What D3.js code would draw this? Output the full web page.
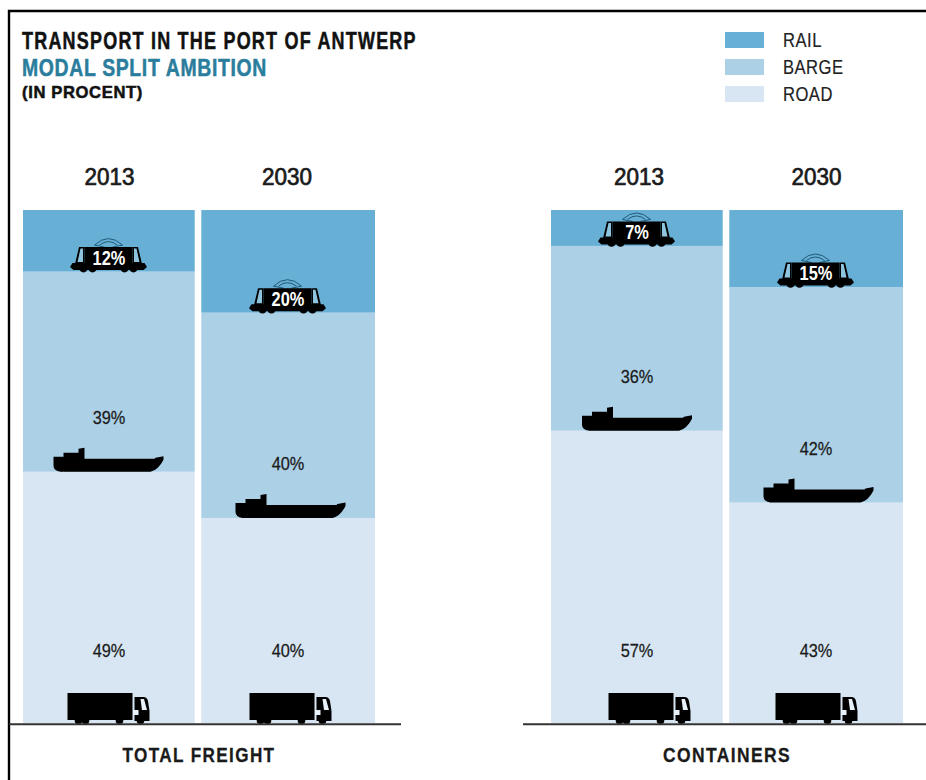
<!DOCTYPE html>
<html>
<head>
<meta charset="utf-8">
<style>
  html, body { margin: 0; padding: 0; background: #fff; }
  svg { display: block; }
  text { font-family: "Liberation Sans", sans-serif; }
</style>
<script src="https://cdn.jsdelivr.net/npm/d3@7"></script>
</head>
<body>
<script>
// Modal split of the Port of Antwerp, percent per transport mode
const groups = ["TOTAL FREIGHT", "CONTAINERS"];
const years = ["2013", "2030"];
const modes = ["RAIL", "BARGE", "ROAD"];
const railValues = [12, 20, 7, 15];
const bargeValues = [39, 40, 36, 42];
const roadValues = [49, 40, 57, 43];
const titleLines = ["TRANSPORT IN THE PORT OF ANTWERP", "MODAL SPLIT AMBITION", "(IN PROCENT)"];

const width = 926, height = 780;
const colour = d3.scaleOrdinal().domain(modes).range(["#67afd5", "#acd0e6", "#d8e6f3"]);

const svg = d3.select("body").append("svg").attr("width", width).attr("height", height);

const y = d3.scaleLinear().domain([0, 100]).range([723.3, 210]);
const xGroup = d3.scaleBand().domain(groups).range([23, 903]).paddingInner(1 / 3);
const xYear = d3.scaleBand().domain(years).range([0, xGroup.bandwidth()]).paddingInner(0.0335);

// Stack the three modes from the ground up: road, barge, rail
const columns = groups.flatMap((group, g) => years.map((year, t) => {
  const i = g * years.length + t;
  return { group, year, RAIL: railValues[i], BARGE: bargeValues[i], ROAD: roadValues[i] };
}));
const layers = d3.stack().keys(["ROAD", "BARGE", "RAIL"])(columns);

// The gutter between a pair of columns sits slightly left of the panel centre
const columnLeft = d => xGroup(d.group) + xYear(d.year) - (d.year === years[1] ? 0.7 : 0);
const columnRight = d => xGroup(d.group) + xYear(d.year) + xYear.bandwidth() - (d.year === years[0] ? 1.3 : 0);
const columnMid = d => xGroup(d.group) + xYear(d.year) + xYear.bandwidth() / 2;

// Frame around the graphic: top and left rules only
svg.append("path")
  .attr("d", d3.line()([[926, 11], [9, 11], [9, 780]]))
  .attr("fill", "none").attr("stroke", "#000").attr("stroke-width", 2.4);

// Bars
layers.forEach(layer => {
  svg.append("g").selectAll("rect").data(layer).join("rect")
    .attr("x", d => columnLeft(d.data))
    .attr("width", d => columnRight(d.data) - columnLeft(d.data))
    .attr("y", d => y(d[1]))
    .attr("height", d => y(d[0]) - y(d[1]))
    .attr("fill", colour(layer.key));
});

// Transport glyphs, drawn around (0,0) = centre of the glyph's bottom edge
const truckBody = "M-41,-31H24V-4H-41Z M26,-27H35Q38.5,-27 39.5,-23L41,-13V-3H26Z";
const truckWheels = [-30, -23, 11, 32];
const truckWindow = "M32,-25H35.5L38.5,-14H33.5Z M24.5,-14H30V-9H24.5Z";

const shipHull = "M-55,-15L-45,-15V-19L-30,-19V-23L-24,-24V-13H46L47,-14L55,-15.5V-12Q50,-2 42,0H-48Q-55,-1 -55,-6Z";

const trainBody = "M-24,-25H24V-9H36L38.5,-5L35,-2H-35L-38.5,-5L-36,-9H-24Z";
const trainCabs = "M-24,-25H-29.5L-33.5,-8H-24Z M24,-25H29.5L33.5,-8H24Z";
const trainWindows = "M-25.5,-23.5H-28L-31,-10H-25.5Z M25.5,-23.5H28L31,-10H25.5Z";
const trainWheels = [-25, -16, 16, 25];
const trainWire = "M-14,-27Q0,-40 14,-27 M-9,-27Q0,-34 9,-27 M-14,-27L-4,-25 M14,-27L4,-25";

function drawTruck(sel) {
  sel.append("path").attr("d", truckBody).attr("fill", "#000");
  sel.selectAll("circle").data(truckWheels).join("circle")
    .attr("cx", d => d).attr("cy", -3.5).attr("r", 3.8).attr("fill", "#000");
  sel.append("path").attr("d", truckWindow).attr("fill", "#e9f1f8");
}
function drawShip(sel) {
  sel.append("path").attr("d", shipHull).attr("fill", "#000");
}
function drawTrain(sel) {
  sel.append("path").attr("d", trainWire).attr("fill", "none").attr("stroke", "#1f5a78").attr("stroke-width", 1);
  sel.append("path").attr("d", trainCabs).attr("fill", "#000");
  sel.append("path").attr("d", trainWindows).attr("fill", "#8fc4df");
  sel.append("path").attr("d", trainBody).attr("fill", "#000");
  sel.selectAll("circle").data(trainWheels).join("circle")
    .attr("cx", d => d).attr("cy", -3.5).attr("r", 3.8).attr("fill", "#000");
}

// Sideways nudges for glyphs and headings that do not sit on the column centre
const truckNudge = [-1, 2, 12, 0];
const shipNudge = [-1, 2, -0.5, 2];
const yearNudge = [0, -1.5, 1.5, 0];

const [roadLayer, bargeLayer, railLayer] = layers;

svg.append("g").selectAll("g").data(roadLayer).join("g")
  .attr("transform", (d, i) => `translate(${columnMid(d.data) + truckNudge[i]},${y(d[0]) + 0.7})`)
  .each(function () { drawTruck(d3.select(this)); });

svg.append("g").selectAll("g").data(bargeLayer).join("g")
  .attr("transform", (d, i) => `translate(${columnMid(d.data) + shipNudge[i]},${y(d[0])})`)
  .each(function () { drawShip(d3.select(this)); });

svg.append("g").selectAll("g").data(railLayer).join("g")
  .attr("transform", d => `translate(${columnMid(d.data) - 1},${y(d[0]) + 0.5})`)
  .each(function () { drawTrain(d3.select(this)); });

// Value labels
function valueLabels(layer, key, offset, fill, weight, size, squeeze) {
  svg.append("g").selectAll("text").data(layer).join("text")
    .attr("text-anchor", "middle")
    .attr("font-size", size)
    .attr("font-weight", weight)
    .attr("fill", fill)
    .attr("stroke", fill === "#fff" ? "none" : fill)
    .attr("stroke-width", 0.25)
    .attr("transform", d => `translate(${columnMid(d.data) - 0.5},${y(d[0]) - offset}) scale(${squeeze},1)`)
    .text(d => `${d.data[key]}%`);
}
valueLabels(roadLayer, "ROAD", 66, "#1a1a1a", 400, 19, 0.86);
valueLabels(bargeLayer, "BARGE", 47.5, "#1a1a1a", 400, 19, 0.86);
valueLabels(railLayer, "RAIL", 7, "#fff", 700, 20.5, 0.8);

// Baseline under each panel
const axis = svg.append("g");
axis.append("line").attr("x1", 9).attr("x2", 401);
axis.append("line").attr("x1", 523).attr("x2", 926);
axis.selectAll("line").attr("y1", y(0) + 1).attr("y2", y(0) + 1).attr("stroke", "#333").attr("stroke-width", 2);

// Year headings
const yearSpan = 50;
svg.append("g").selectAll("text").data(columns).join("text")
  .attr("text-anchor", "middle")
  .attr("font-size", 23)
  .attr("fill", "#1a1a1a")
  .attr("stroke", "#1a1a1a").attr("stroke-width", 0.7)
  .text(d => d.year)
  .attr("transform", function (d, i) {
    return `translate(${columnMid(d) + yearNudge[i]},185) scale(${yearSpan / this.getComputedTextLength()},1)`;
  });

// Panel captions
const captionWidths = [153, 128];
svg.append("g").selectAll("text").data(groups).join("text")
  .attr("text-anchor", "middle")
  .attr("font-size", 20)
  .attr("font-weight", 700)
  .attr("letter-spacing", 1.6)
  .attr("fill", "#1a1a1a")
  .attr("stroke", "#1a1a1a").attr("stroke-width", 0.3)
  .text(d => d)
  .attr("transform", function (d, i) {
    return `translate(${xGroup(d) + xGroup.bandwidth() / 2},762) scale(${captionWidths[i] / this.getComputedTextLength()},1)`;
  });

// Title block
const titleStyles = [
  { baseline: 48.5, size: 23.5, fill: "#111", spacing: 1.6, span: 395 },
  { baseline: 76, size: 23.5, fill: "#2a7d9c", spacing: 0.8, span: 245 },
  { baseline: 97.5, size: 16, fill: "#111", spacing: 0.6, span: 121 }
];
svg.append("g").selectAll("text").data(titleLines).join("text")
  .attr("font-size", (d, i) => titleStyles[i].size)
  .attr("font-weight", 700)
  .attr("letter-spacing", (d, i) => titleStyles[i].spacing)
  .attr("fill", (d, i) => titleStyles[i].fill)
  .attr("stroke", (d, i) => titleStyles[i].fill).attr("stroke-width", 0.5)
  .text(d => d)
  .attr("transform", function (d, i) {
    const s = titleStyles[i];
    return `translate(22,${s.baseline}) scale(${s.span / this.getComputedTextLength()},1)`;
  });

// Legend
const legendY = d3.scalePoint().domain(modes).range([40, 94]);
const legend = svg.append("g").selectAll("g").data(modes).join("g")
  .attr("transform", d => `translate(725,${legendY(d)})`);
legend.append("rect")
  .attr("y", -8).attr("width", 39).attr("height", 16)
  .attr("fill", d => colour(d));
legend.append("text")
  .attr("font-size", 20)
  .attr("letter-spacing", 0.6)
  .attr("fill", "#222")
  .attr("stroke", "#222").attr("stroke-width", 0.2)
  .attr("transform", "translate(58,7) scale(0.83,1)")
  .text(d => d);
</script>
</body>
</html>
